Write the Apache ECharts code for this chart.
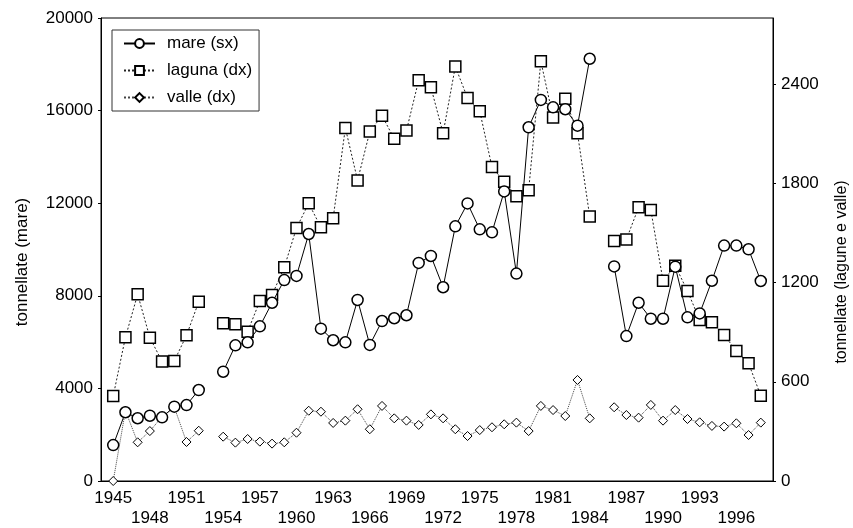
<!DOCTYPE html>
<html>
<head>
<meta charset="utf-8">
<script src="https://cdn.jsdelivr.net/npm/echarts@6/dist/echarts.min.js"></script>
<style>
  html, body { margin: 0; padding: 0; background: #fff; }
  #chart { width: 853px; height: 528px; }
</style>
</head>
<body>
<div id="chart"></div>
<script>
// anni 1945-1998 (1953 e 1985 mancanti)
var years = [1945, 1946, 1947, 1948, 1949, 1950, 1951, 1952, 1953, 1954,
  1955, 1956, 1957, 1958, 1959, 1960, 1961, 1962, 1963, 1964,
  1965, 1966, 1967, 1968, 1969, 1970, 1971, 1972, 1973, 1974,
  1975, 1976, 1977, 1978, 1979, 1980, 1981, 1982, 1983, 1984,
  1985, 1986, 1987, 1988, 1989, 1990, 1991, 1992, 1993, 1994,
  1995, 1996, 1997, 1998];
// mare (asse sx)
var mare = [1550, 2970, 2710, 2820, 2750, 3210, 3280, 3930, null, 4720,
  5860, 5990, 6680, 7700, 8680, 8860, 10670, 6580, 6080, 5990,
  7820, 5880, 6910, 7030, 7160, 9420, 9720, 8370, 11000, 11990,
  10870, 10740, 12510, 8960, 15280, 16460, 16140, 16060, 15350, 18240,
  null, 9270, 6260, 7700, 7010, 7010, 9260, 7070, 7240, 8650,
  10170, 10170, 10010, 8640];
// laguna (asse dx)
var laguna = [514, 869, 1129, 867, 722, 726, 881, 1084, null, 954,
  948, 903, 1089, 1125, 1292, 1530, 1679, 1534, 1589, 2135,
  1818, 2113, 2209, 2070, 2119, 2423, 2381, 2103, 2506, 2316,
  2236, 1899, 1810, 1722, 1758, 2538, 2199, 2312, 2103, 1599,
  null, 1451, 1461, 1655, 1639, 1211, 1302, 1149, 974, 960,
  883, 786, 712, 516];
// valle (asse dx)
var valle = [0, 425, 234, 302, 389, 446, 236, 304, null, 268,
  232, 254, 238, 226, 234, 292, 425, 419, 351, 365,
  434, 313, 454, 379, 365, 339, 403, 379, 313, 272,
  308, 325, 343, 353, 302, 454, 429, 393, 611, 379,
  null, 446, 399, 383, 460, 365, 429, 375, 355, 333,
  329, 349, 278, 353];
var leftTicks = [0, 4000, 8000, 12000, 16000, 20000];
var rightTicks = [0, 600, 1200, 1800, 2400];

var FONT = '"Liberation Sans", Arial, sans-serif';
var FS = 17;

function pairs(arr) {
  return years.map(function (y, i) {
    return [y, arr[i] == null ? '-' : arr[i]];
  });
}
// niente separatore delle migliaia
function plain(v) { return String(v); }

var chart = echarts.init(document.getElementById('chart'), null, { renderer: 'canvas' });

var option = {
  animation: false,
  backgroundColor: '#fff',
  textStyle: { fontFamily: FONT },
  grid: {
    left: 101, right: 80, top: 18, bottom: 47,
    show: true, borderColor: '#000', borderWidth: 1,
    backgroundColor: 'transparent'
  },
  legend: {
    orient: 'vertical',
    left: 112, top: 30,
    backgroundColor: '#fff',
    borderColor: '#333', borderWidth: 1,
    padding: [5, 7, 5, 11],
    itemGap: 10,
    itemWidth: 31, itemHeight: 11,
    textStyle: { fontSize: FS, color: '#000', fontFamily: FONT, padding: [0, 0, 0, 7] },
    data: ['mare (sx)', 'laguna (dx)', 'valle (dx)']
  },
  xAxis: {
    type: 'value',
    min: 1944, max: 1999, interval: 1,
    axisLine: { lineStyle: { color: '#000', width: 1 } },
    axisTick: { show: false },
    splitLine: { show: false },
    axisLabel: {
      fontSize: FS, color: '#000', fontFamily: FONT,
      lineHeight: 20, margin: 7,
      formatter: function (v) {
        var d = v - 1945;
        if (d < 0 || d % 3 !== 0 || v > 1998) return '';
        return (d % 6 === 0) ? String(v) : '\n' + v;
      }
    }
  },
  yAxis: [
    {
      type: 'value',
      min: leftTicks[0], max: leftTicks[leftTicks.length - 1], interval: 4000,
      axisLine: { show: true, lineStyle: { color: '#000', width: 1 } },
      axisTick: { show: true, length: 3, lineStyle: { color: '#000' } },
      splitLine: { show: false },
      axisLabel: { fontSize: FS, color: '#000', fontFamily: FONT, margin: 8, formatter: plain }
    },
    {
      type: 'value',
      position: 'right',
      min: rightTicks[0], max: 2800, interval: 600,
      axisLine: { show: true, lineStyle: { color: '#000', width: 1 } },
      axisTick: { show: true, length: 3, lineStyle: { color: '#000' } },
      splitLine: { show: false },
      axisLabel: { fontSize: FS, color: '#000', fontFamily: FONT, margin: 8, showMaxLabel: false, formatter: plain }
    }
  ],
  graphic: [
    {
      type: 'text', x: 22, y: 262, rotation: Math.PI / 2,
      style: { text: 'tonnellate (mare)', fontSize: FS, fontFamily: FONT, fill: '#000', align: 'center', verticalAlign: 'middle' }
    },
    {
      type: 'text', x: 842, y: 272, rotation: Math.PI / 2,
      style: { text: 'tonnellate (lagune e valle)', fontSize: FS - 1, fontFamily: FONT, fill: '#000', align: 'center', verticalAlign: 'middle' }
    }
  ],
  series: [
    {
      name: 'mare (sx)',
      type: 'line',
      yAxisIndex: 0,
      data: pairs(mare),
      connectNulls: false,
      symbol: 'circle', symbolSize: 11,
      lineStyle: { color: '#000', width: 1, type: 'solid' },
      itemStyle: { color: '#fff', borderColor: '#000', borderWidth: 1.5 },
      z: 4
    },
    {
      name: 'laguna (dx)',
      type: 'line',
      yAxisIndex: 1,
      data: pairs(laguna),
      connectNulls: false,
      symbol: 'rect', symbolSize: 11,
      lineStyle: { color: '#222', width: 1, type: [2, 2] },
      itemStyle: { color: '#fff', borderColor: '#000', borderWidth: 1.5 },
      z: 3
    },
    {
      name: 'valle (dx)',
      type: 'line',
      yAxisIndex: 1,
      data: pairs(valle),
      connectNulls: false,
      symbol: 'diamond', symbolSize: 9,
      lineStyle: { color: '#444', width: 1, type: 'dotted' },
      itemStyle: { color: '#fff', borderColor: '#000', borderWidth: 1 },
      z: 2
    }
  ]
};

chart.setOption(option);
</script>
</body>
</html>
